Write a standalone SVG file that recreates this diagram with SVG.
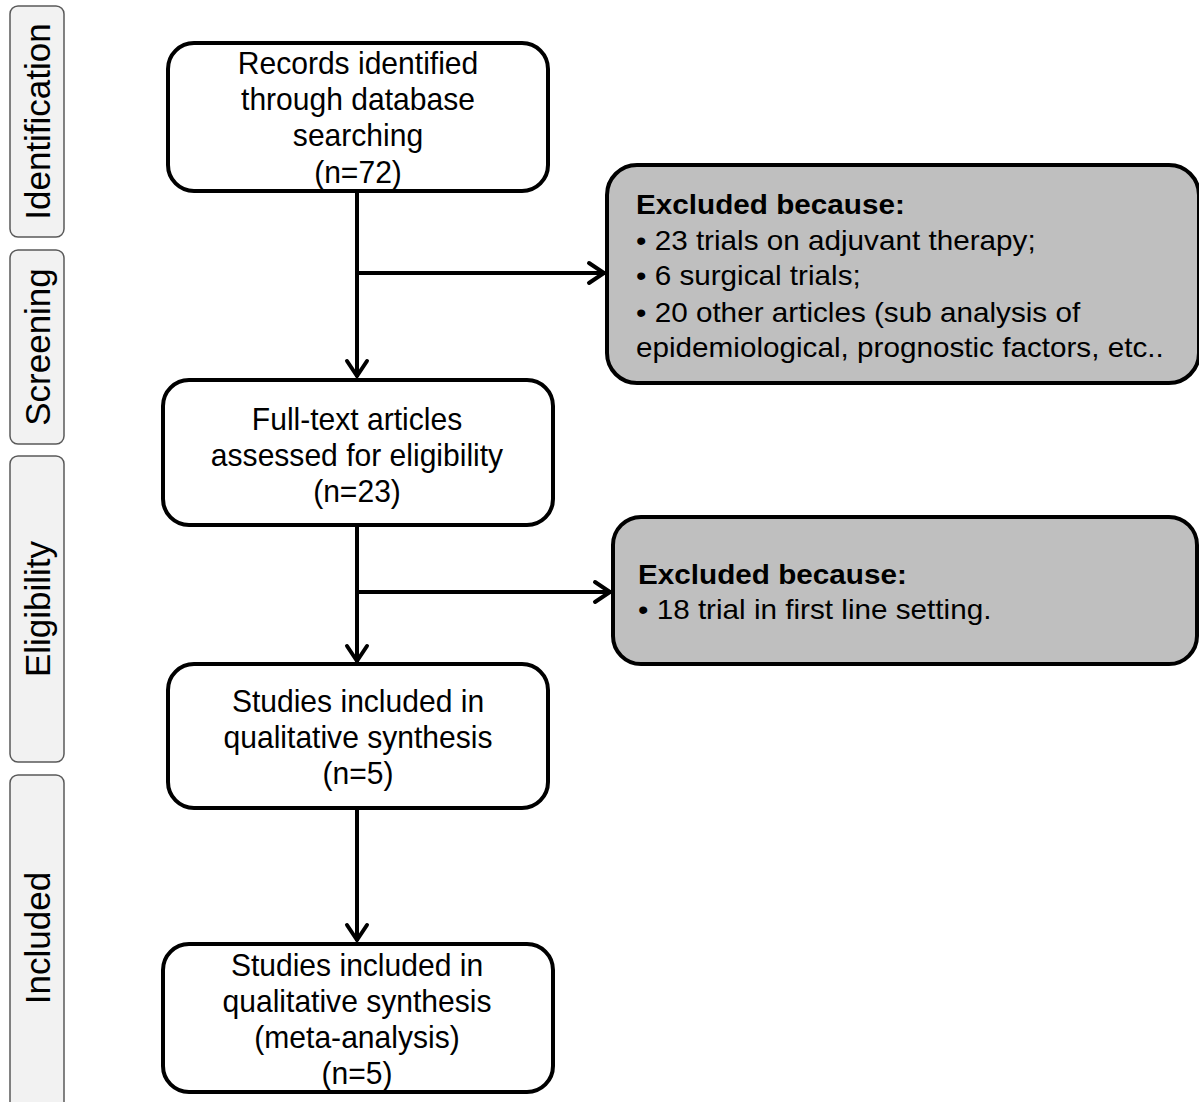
<svg xmlns="http://www.w3.org/2000/svg" width="1199" height="1102" viewBox="0 0 1199 1102">
<defs>
<style>
.side{fill:#f2f2f2;stroke:#595959;stroke-width:1.5}
.sidet{font-family:"Liberation Sans",Arial,sans-serif;font-size:35px;fill:#000;text-anchor:middle}
.box{fill:#fff;stroke:#000;stroke-width:4}
.exc{fill:#bfbfbf;stroke:#000;stroke-width:4}
.bt{font-family:"Liberation Sans",Arial,sans-serif;font-size:31px;fill:#000;text-anchor:middle}
.et{font-family:"Liberation Sans",Arial,sans-serif;font-size:28px;fill:#000}
.eb{font-weight:bold}
.conn{fill:none;stroke:#000;stroke-width:4}
</style>
<marker id="arr" markerUnits="userSpaceOnUse" markerWidth="30" markerHeight="30" viewBox="-20 -15 25 30" refX="0" refY="0" orient="auto">
<path d="M-16,-10 L-1,0 L-16,10" fill="none" stroke="#000" stroke-width="4" stroke-linecap="round" stroke-linejoin="miter"/>
</marker>
</defs>
<rect width="1199" height="1102" fill="#fff"/>

<g id="phase-identification">
<rect class="side" x="10" y="6" width="54" height="231" rx="8"/>
<text class="sidet" transform="translate(50,121.5) rotate(-90)">Identification</text>
</g>
<g id="phase-screening">
<rect class="side" x="10" y="250" width="54" height="194" rx="8"/>
<text class="sidet" transform="translate(50,347) rotate(-90)">Screening</text>
</g>
<g id="phase-eligibility">
<rect class="side" x="10" y="456" width="54" height="306" rx="8"/>
<text class="sidet" transform="translate(50,609) rotate(-90)">Eligibility</text>
</g>
<g id="phase-included">
<rect class="side" x="10" y="775" width="54" height="340" rx="8"/>
<text class="sidet" transform="translate(50,938) rotate(-90)">Included</text>
</g>

<g id="connectors">
<line class="conn" x1="357" y1="192" x2="357" y2="377" marker-end="url(#arr)"/>
<line class="conn" x1="357" y1="273" x2="605" y2="273" marker-end="url(#arr)"/>
<line class="conn" x1="357" y1="526" x2="357" y2="662" marker-end="url(#arr)"/>
<line class="conn" x1="357" y1="592" x2="611" y2="592" marker-end="url(#arr)"/>
<line class="conn" x1="357" y1="809" x2="357" y2="941" marker-end="url(#arr)"/>
</g>

<g id="records">
<rect class="box" x="168" y="43" width="380" height="148" rx="26"/>
<g transform="translate(358,0) scale(0.97,1)">
<text class="bt" x="0" y="74">Records identified</text>
<text class="bt" x="0" y="110">through database</text>
<text class="bt" x="0" y="146">searching</text>
<text class="bt" x="0" y="183">(n=72)</text>
</g>
</g>

<g id="fulltext">
<rect class="box" x="163" y="380" width="390" height="145" rx="26"/>
<g transform="translate(357,0) scale(0.97,1)">
<text class="bt" x="0" y="430">Full-text articles</text>
<text class="bt" x="0" y="466">assessed for eligibility</text>
<text class="bt" x="0" y="502">(n=23)</text>
</g>
</g>

<g id="qualitative">
<rect class="box" x="168" y="664" width="380" height="144" rx="26"/>
<g transform="translate(358,0) scale(0.97,1)">
<text class="bt" x="0" y="712">Studies included in</text>
<text class="bt" x="0" y="748">qualitative synthesis</text>
<text class="bt" x="0" y="784">(n=5)</text>
</g>
</g>

<g id="meta">
<rect class="box" x="163" y="944" width="390" height="148" rx="26"/>
<g transform="translate(357,0) scale(0.97,1)">
<text class="bt" x="0" y="976">Studies included in</text>
<text class="bt" x="0" y="1012">qualitative synthesis</text>
<text class="bt" x="0" y="1048">(meta-analysis)</text>
<text class="bt" x="0" y="1084">(n=5)</text>
</g>
</g>

<g id="excluded1">
<rect class="exc" x="607" y="165" width="592" height="218" rx="30"/>
<g transform="translate(636,0) scale(1.06,1)">
<text class="et eb" x="0" y="214">Excluded because:</text>
<text class="et" x="0" y="250">• 23 trials on adjuvant therapy;</text>
<text class="et" x="0" y="285">• 6 surgical trials;</text>
<text class="et" x="0" y="322">• 20 other articles (sub analysis of</text>
<text class="et" x="0" y="357">epidemiological, prognostic factors, etc..</text>
</g>
</g>

<g id="excluded2">
<rect class="exc" x="613" y="517" width="584" height="147" rx="28"/>
<g transform="translate(638,0) scale(1.06,1)">
<text class="et eb" x="0" y="584">Excluded because:</text>
<text class="et" x="0" y="619">• 18 trial in first line setting.</text>
</g>
</g>
</svg>
